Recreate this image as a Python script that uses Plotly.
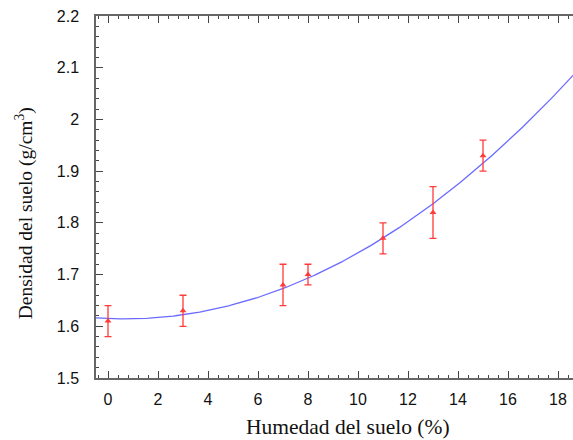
import numpy as np
import plotly.graph_objects as go

humedad = [0, 3, 7, 8, 11, 13, 15]
densidad = [1.61, 1.63, 1.68, 1.70, 1.77, 1.82, 1.93]
error = [0.03, 0.03, 0.04, 0.02, 0.03, 0.05, 0.03]

# Quadratic fit coefficients (c0 + c1*x + c2*x^2)
fit_coeffs = [1.615, -0.00196, 0.001464]
fit_x = np.linspace(-0.48, 18.7, 200)
fit_y = fit_coeffs[0] + fit_coeffs[1] * fit_x + fit_coeffs[2] * fit_x ** 2

x_ticks = [0, 2, 4, 6, 8, 10, 12, 14, 16, 18]
y_ticks = [1.5, 1.6, 1.7, 1.8, 1.9, 2.0, 2.1, 2.2]
y_tick_text = ["1.5", "1.6", "1.7", "1.8", "1.9", "2", "2.1", "2.2"]

fig = go.Figure()
fig.add_trace(go.Scatter(
    x=fit_x, y=fit_y, mode="lines",
    line=dict(color="rgba(90,90,255,0.9)", width=1.3),
    hoverinfo="skip", showlegend=False,
))
fig.add_trace(go.Scatter(
    x=humedad, y=densidad, mode="markers",
    marker=dict(symbol="triangle-up", size=6, color="#ff3b3b"),
    error_y=dict(type="data", array=error, visible=True,
                 color="#ff3b3b", thickness=1.3, width=3.5),
    showlegend=False,
))

axis_color = "#666666"
fig.update_layout(
    width=573, height=440,
    margin=dict(l=96, r=0, t=16, b=62),
    paper_bgcolor="white", plot_bgcolor="white",
    font=dict(family="Liberation Sans, Arial, sans-serif", size=16, color="#111111"),
    xaxis=dict(
        range=[-0.48, 18.6], tickvals=x_ticks,
        ticks="inside", ticklen=7, tickwidth=1.2, tickcolor="#444",
        showline=True, linecolor=axis_color, linewidth=1.5, mirror="ticks",
        showgrid=False, zeroline=False,
        minor=dict(dtick=0.4, tick0=0, ticks="inside", ticklen=3.5,
                   tickwidth=1, tickcolor="#444", showgrid=False),
        tickfont=dict(size=16), ticklabelstandoff=6,
    ),
    yaxis=dict(
        range=[1.5, 2.2], tickvals=y_ticks, ticktext=y_tick_text,
        ticks="inside", ticklen=7, tickwidth=1.2, tickcolor="#444",
        showline=True, linecolor=axis_color, linewidth=1.5,
        showgrid=False, zeroline=False,
        minor=dict(dtick=0.02, tick0=1.5, ticks="inside", ticklen=3.5,
                   tickwidth=1, tickcolor="#444", showgrid=False),
        tickfont=dict(size=16), ticklabelstandoff=12,
    ),
    annotations=[
        dict(text="Densidad del suelo (g/cm<sup>3</sup>)", xref="paper", yref="paper",
             x=-0.151, y=0.455, xanchor="center", yanchor="middle", textangle=-90,
             showarrow=False,
             font=dict(family="Liberation Serif, Times New Roman, serif", size=19.5, color="#111")),
        dict(text="Humedad del suelo (%)", xref="paper", yref="paper",
             x=0.528, y=-0.135, xanchor="center", yanchor="middle",
             showarrow=False,
             font=dict(family="Liberation Serif, Times New Roman, serif", size=21.5, color="#111")),
    ],
)

fig.write_html("out.html")
